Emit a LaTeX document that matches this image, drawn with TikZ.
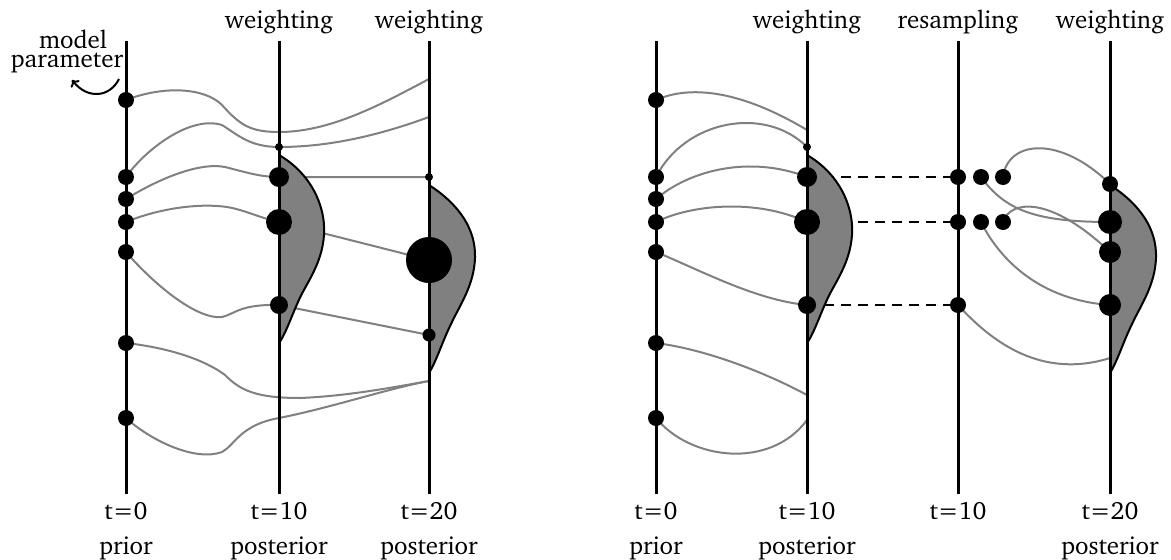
\documentclass[tikz,border=0pt]{standalone}
\usepackage[T1]{fontenc}
\usepackage{charter}
\usetikzlibrary{arrows.meta}
\pgfdeclarelayer{curves}
\pgfdeclarelayer{shapes}
\pgfsetlayers{curves,shapes,main}
\begin{document}
\begin{tikzpicture}[x=1pt,y=-1pt,
  dot/.style={circle,fill=black,inner sep=0pt,minimum size=#1},
  dot/.default=16pt,
  axis/.style={line width=3pt},
  link/.style={draw=gray,line width=2pt},
  dens/.style={fill=gray,draw=black,line width=2pt,line join=round},
  dashlink/.style={line width=2pt,dash pattern=on 10pt off 7pt},
  lab/.style={font=\fontsize{25}{25}\selectfont,inner sep=0pt,anchor=base}]

\useasboundingbox (0,0) rectangle (1171,560);

% ---------- labels
\node[lab] (wA) at (279,28) {weighting};
\node[lab] (wB) at (429,28) {weighting};
\node[lab] (wC) at (807,28) {weighting};
\node[lab] (wD) at (958,28) {resampling};
\node[lab] (wE) at (1110,28) {weighting};

\node[lab] (tA) at (126,519) {t=0};
\node[lab] (tB) at (279,519) {t=10};
\node[lab] (tC) at (429,519) {t=20};
\node[lab] (tD) at (656,519) {t=0};
\node[lab] (tE) at (807,519) {t=10};
\node[lab] (tF) at (958,519) {t=10};
\node[lab] (tG) at (1110,519) {t=20};

\node[lab] (pA) at (126,554) {prior};
\node[lab] (pB) at (279,554) {posterior};
\node[lab] (pC) at (429,554) {posterior};
\node[lab] (pD) at (656,554) {prior};
\node[lab] (pE) at (807,554) {posterior};
\node[lab] (pG) at (1110,554) {posterior};

\node[lab] (mp1) at (73,48) {model};
\node[lab] (mp2) at (67,67) {parameter};
\coordinate (ms) at (119,79);
\coordinate (me) at (72,80);
\draw[line width=2pt,-{To[length=6pt,width=11pt]}] (ms) .. controls (110,97) and (88,100) .. (me);

% ---------- axis end points
\foreach \n/\x in {A/126,B/279,C/429,D/656,E/807,F/958,G/1110}{
  \coordinate (top\n) at (\x,41);
  \coordinate (bot\n) at (\x,494);
}

% ---------- dots, left panel
\foreach \i/\y in {1/100,2/177,3/199,4/222,5/252,6/343,7/418}{
  \node[dot] (a\i) at (126,\y) {};
  \node[dot] (p\i) at (656,\y) {};
}
\node[dot=8pt]  (bS) at (279,147) {};
\node[dot=20pt] (b1) at (279,177) {};
\node[dot=26pt] (b2) at (279,222) {};
\node[dot=18pt] (b3) at (279,305) {};
\node[dot=8pt]  (cS) at (429,177) {};
\node[dot=46pt] (cB) at (429,260) {};
\node[dot=13pt] (cD) at (429,335) {};
\coordinate (c79) at (429,79);
\coordinate (c117) at (429,117);
\coordinate (c381) at (429,381);

% ---------- dots, right panel
\node[dot=8pt]  (qS) at (807,147) {};
\node[dot=20pt] (q1) at (807,177) {};
\node[dot=26pt] (q2) at (807,222) {};
\node[dot=18pt] (q3) at (807,305) {};
\coordinate (q130) at (807,130);
\coordinate (q395) at (807,395);
\coordinate (q420) at (807,420);

\node[dot] (r11) at (958,177) {};
\node[dot] (r12) at (981,177) {};
\node[dot] (r13) at (1003,177) {};
\node[dot] (r21) at (958,222) {};
\node[dot] (r22) at (981,222) {};
\node[dot] (r23) at (1003,222) {};
\node[dot] (r31) at (958,305) {};

\node[dot=16pt] (s1) at (1110,184) {};
\node[dot=24pt] (s2) at (1110,222) {};
\node[dot=22pt] (s3) at (1110,252) {};
\node[dot=22pt] (s4) at (1110,305) {};
\coordinate (s358) at (1110,358);

% ---------- connectors
\begin{pgfonlayer}{curves}
% left panel
\draw[link] (a1.center) .. controls (165,85) and (205,88) .. (222,105)
  .. controls (240,125) and (250,132) .. (279,132)
  .. controls (330,132) and (380,105) .. (c79);
\draw[link] (a2.center) .. controls (145,150) and (190,115) .. (222,125)
  .. controls (238,135) and (250,147) .. (bS.center)
  .. controls (330,147) and (380,135) .. (c117);
\draw[link] (a3.center) .. controls (160,178) and (200,162) .. (225,167)
  .. controls (245,172) and (260,177) .. (b1.center) -- (cS.center);
\draw[link] (a4.center) .. controls (160,208) and (200,203) .. (227,207)
  .. controls (245,210) and (260,218) .. (b2.center) -- (cB.center);
\draw[link] (a5.center) .. controls (150,280) and (195,320) .. (222,317)
  .. controls (235,314) and (240,304) .. (b3.center) -- (cD.center);
\draw[link] (a6.center) .. controls (170,348) and (205,360) .. (225,375)
  .. controls (240,390) and (255,398) .. (300,398)
  .. controls (350,396) and (400,386) .. (c381);
\draw[link] (a7.center) .. controls (150,440) and (195,462) .. (222,452)
  .. controls (235,445) and (240,425) .. (279,418)
  .. controls (330,408) and (390,388) .. (c381);
% right panel
\draw[link] (p1.center) .. controls (690,85) and (740,90) .. (q130);
\draw[link] (p2.center) .. controls (685,120) and (765,105) .. (qS.center);
\draw[link] (p3.center) .. controls (690,170) and (750,155) .. (q1.center);
\draw[link] (p4.center) .. controls (690,205) and (755,198) .. (q2.center);
\draw[link] (p5.center) .. controls (700,270) and (755,300) .. (q3.center);
\draw[link] (p6.center) .. controls (710,350) and (770,375) .. (q395);
\draw[link] (p7.center) .. controls (690,460) and (770,470) .. (q420);
\draw[link] (r13.center) .. controls (1008,140) and (1060,135) .. (s1.center);
\draw[link] (r12.center) .. controls (1005,210) and (1035,222) .. (s2.center);
\draw[link] (r23.center) .. controls (1010,200) and (1050,195) .. (s3.center);
\draw[link] (r22.center) .. controls (1000,260) and (1040,300) .. (s4.center);
\draw[link] (r31.center) .. controls (990,340) and (1040,380) .. (s358);
% resampling copies
\draw[dashlink] (q1.center) -- (r11.center);
\draw[dashlink] (q2.center) -- (r21.center);
\draw[dashlink] (q3.center) -- (r31.center);
\end{pgfonlayer}

% ---------- densities and axes
\begin{pgfonlayer}{shapes}
\foreach \dx in {0,528}{
  \draw[dens,xshift=\dx pt] (279,155) .. controls (310,173) and (326,205) .. (324,235)
    .. controls (322,265) and (305,285) .. (298,302)
    .. controls (290,320) and (285,335) .. (279,343) -- cycle;
}
\foreach \dx in {0,681}{
  \draw[dens,xshift=\dx pt] (429,185) .. controls (460,205) and (476,230) .. (475,258)
    .. controls (474,285) and (460,305) .. (452,322)
    .. controls (442,342) and (437,360) .. (429,373) -- cycle;
}
\foreach \n in {A,B,C,D,E,F,G}{
  \draw[axis] (top\n) -- (bot\n);
}
\end{pgfonlayer}
\end{tikzpicture}
\end{document}
